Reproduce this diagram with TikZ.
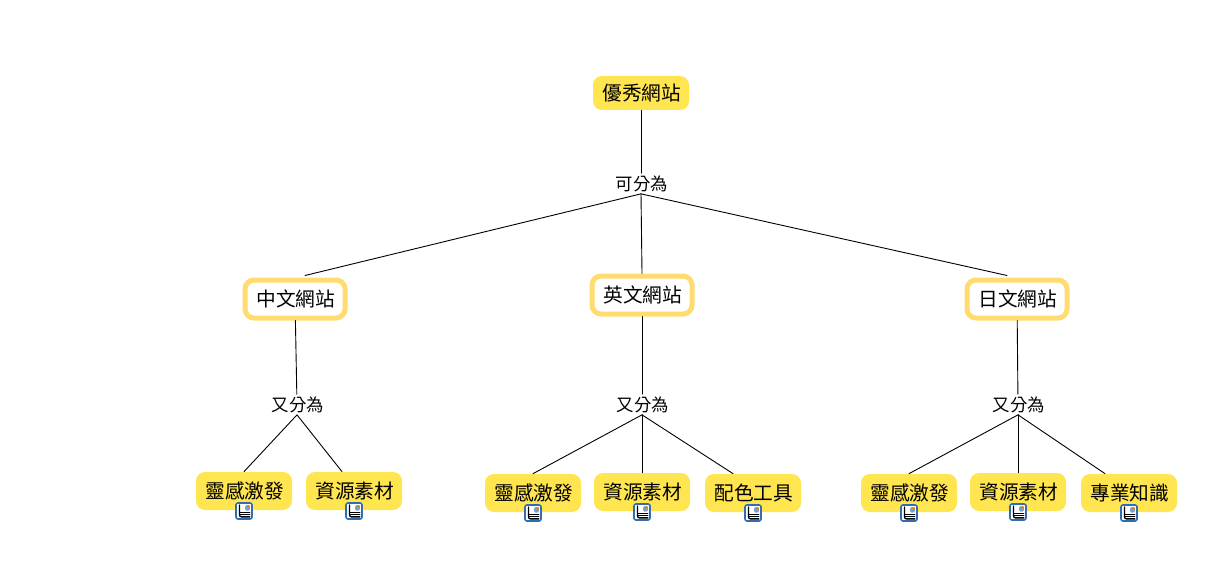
\documentclass[tikz,border=0pt]{standalone}
\usepackage{fontspec}
\setmainfont{Noto Sans CJK TC}
\usepackage{xcolor}
\definecolor{mYellow}{HTML}{FFE54F}
\definecolor{mBorder}{HTML}{FFDB70}
\definecolor{mIcon}{HTML}{2F6DB5}
\def\baselen{0.02cm}

\begin{document}
\begin{tikzpicture}[x=\baselen, y=-\baselen, line cap=round]
  \tikzstyle{concept}=[rounded corners=9*\baselen, inner sep=0pt, font=\fontsize{11.2pt}{13pt}\selectfont, execute at begin node=\kern1pt]
  \tikzstyle{filled concept}=[concept, fill=mYellow, minimum width=96*\baselen, minimum height=38*\baselen]
  \tikzstyle{framed concept}=[concept, draw=mBorder, fill=white, line width=5*\baselen, minimum width=100*\baselen, minimum height=38*\baselen]
  \tikzstyle{linking}=[inner sep=0pt, fill=white, font=\fontsize{9.9pt}{12pt}\selectfont, minimum width=54*\baselen, minimum height=20*\baselen, execute at begin node=\kern1pt]
  \tikzstyle{link}=[black, line width=0.9*\baselen]
  \tikzstyle{doc}=[draw=mIcon, fill=white, line width=1.6*\baselen, rounded corners=2*\baselen, minimum size=16*\baselen, inner sep=0pt,
    path picture={
      \fill[mIcon!65] ([shift={(0.6pt,-1.2pt)}]path picture bounding box.north) rectangle ([shift={(-1.2pt,-4.4pt)}]path picture bounding box.north east);
      \fill[orange!70!brown] ([shift={(-2.6pt,-1.2pt)}]path picture bounding box.north east) rectangle ([shift={(-1.2pt,-2.6pt)}]path picture bounding box.north east);
      \draw[black, line width=1.4*\baselen] ([shift={(2pt,-1.2pt)}]path picture bounding box.north west) -- ([shift={(2pt,1.2pt)}]path picture bounding box.south west) -- ([shift={(-1.2pt,1.2pt)}]path picture bounding box.south east);
      \draw[black, line width=0.9*\baselen] ([shift={(2pt,-5.4pt)}]path picture bounding box.north west) -- ([shift={(-1.2pt,-5.4pt)}]path picture bounding box.north east);
      \draw[black, line width=0.9*\baselen] ([shift={(2pt,2.4pt)}]path picture bounding box.south west) -- ([shift={(-1.2pt,2.4pt)}]path picture bounding box.south east);
    }]

  \useasboundingbox (0,0) rectangle (1222,567);

  % Draw the top concept and the three sites
  \node[filled concept, minimum height=34*\baselen] (top) at (641,93) {優秀網站};
  \node[framed concept] (zh) at (295,299) {中文網站};
  \node[framed concept] (en) at (642,295) {英文網站};
  \node[framed concept] (ja) at (1017,299) {日文網站};

  % Draw the linking phrases
  \node[linking] (split) at (641,183.5) {可分為};
  \node[linking] (zh-split) at (297,404.5) {又分為};
  \node[linking] (en-split) at (642,404.5) {又分為};
  \node[linking] (ja-split) at (1018,404.5) {又分為};

  % Draw the leaves
  \foreach \name / \x / \y / \txt in {
      zh-1/244/491/靈感激發, zh-2/354/491/資源素材,
      en-1/533/493/靈感激發, en-2/642/492/資源素材, en-3/753/493/配色工具,
      ja-1/909/493/靈感激發, ja-2/1018/492/資源素材, ja-3/1129/493/專業知識}
  {
    \node[filled concept] (\name) at (\x,\y) {\txt};
    \node[doc] (doc-\name) at (\x,\y+20) {};
  }

  % Connect top -> sites
  \draw[link] (top) -- (split);
  \draw[link] (split.south) -- ([xshift=10*\baselen, yshift=2*\baselen]zh.north);
  \draw[link] (split.south) -- (en.north);
  \draw[link] (split.south) -- ([xshift=-10*\baselen, yshift=2*\baselen]ja.north);

  % Connect sites -> leaves
  \foreach \site in {zh,en,ja}
    \draw[link] (\site) -- (\site-split);
  \foreach \site / \leaf / \shift in {zh/1/0, zh/2/-12, en/1/0, en/2/0, en/3/-20, ja/1/0, ja/2/0, ja/3/-24}
    \draw[link] (\site-split.south) -- ([xshift=\shift*\baselen]\site-\leaf.north);
\end{tikzpicture}
\end{document}
